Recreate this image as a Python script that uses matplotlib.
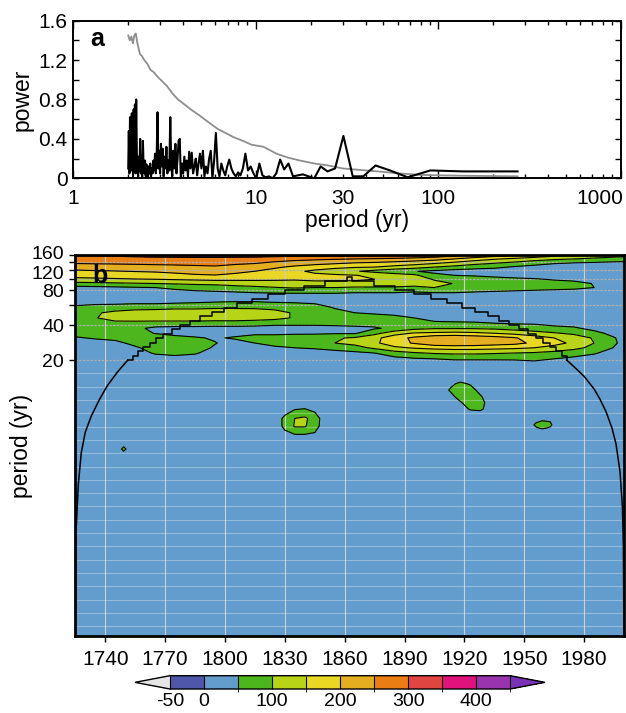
import numpy as np
import matplotlib
matplotlib.use("Agg")
import matplotlib.pyplot as plt
from matplotlib.colors import ListedColormap, BoundaryNorm
from matplotlib.ticker import FixedLocator, FuncFormatter
import matplotlib.transforms as mtransforms

plt.rcParams['font.family'] = ['Liberation Sans', 'DejaVu Sans']
plt.rcParams['axes.unicode_minus'] = False

# ---------------- panel a: global spectrum ----------------
spec_k = np.arange(136, 0, -1)          # Fourier index (record of 272 yr)
spec_periods = 272.0 / spec_k
spec_power = [
    0.10, 0.48, 0.05, 0.62, 0.20, 0.08, 0.66, 0.30, 0.02, 0.70,
    0.15, 0.75, 0.05, 0.80, 0.25, 0.10, 0.02, 0.22, 0.08, 0.40,
    0.05, 0.15, 0.00, 0.38, 0.10, 0.05, 0.18, 0.02, 0.14, 0.08,
    0.00, 0.12, 0.05, 0.15, 0.02, 0.10, 0.05, 0.18, 0.08, 0.25,
    0.05, 0.20, 0.67, 0.10, 0.28, 0.05, 0.35, 0.12, 0.30, 0.02,
    0.22, 0.10, 0.32, 0.05, 0.18, 0.08, 0.62, 0.12, 0.02, 0.28,
    0.10, 0.35, 0.05, 0.20, 0.38, 0.40, 0.00, 0.15, 0.05, 0.22,
    0.08, 0.18, 0.02, 0.27, 0.10, 0.26, 0.05, 0.12, 0.20, 0.03,
    0.15, 0.25, 0.10, 0.28, 0.02, 0.12, 0.05, 0.20, 0.28, 0.00,
    0.18, 0.46, 0.10, 0.02, 0.15, 0.08, 0.03, 0.12, 0.19, 0.10,
    0.05, 0.02, 0.06, 0.03, 0.10, 0.25, 0.08, 0.12, 0.05, 0.00,
    0.15, 0.03, 0.01, 0.02, 0.00, 0.05, 0.19, 0.09, 0.15, 0.02,
    0.03, 0.04, 0.02, 0.00, 0.12, 0.07, 0.10, 0.43, 0.02, 0.02,
    0.13, 0.08, 0.01, 0.08, 0.07, 0.07]

signif_periods = [2.0, 2.04, 2.08, 2.12, 2.16, 2.2, 2.24, 2.28, 2.32, 2.38,
                  2.45, 2.55, 2.65, 2.75, 2.9, 3.05, 3.25, 3.5, 3.75, 4.0,
                  4.4, 4.9, 5.5, 6.2, 7.0, 7.5, 8.5, 9.5, 11, 13,
                  15, 17.5, 21, 25, 30, 40, 50, 60, 80, 100, 150, 272]
signif_power = [1.45, 1.40, 1.44, 1.37, 1.45, 1.47, 1.38, 1.32, 1.26, 1.24,
                1.20, 1.16, 1.10, 1.08, 1.03, 0.99, 0.94, 0.86, 0.80, 0.76,
                0.70, 0.64, 0.57, 0.50, 0.45, 0.42, 0.38, 0.34, 0.32, 0.25,
                0.21, 0.18, 0.15, 0.13, 0.10, 0.08, 0.065, 0.05, 0.035, 0.03,
                0.025, 0.02]

# ---------------- panel b: wavelet power ----------------
grid_years = [1725, 1735, 1745, 1755, 1765, 1775, 1785, 1795, 1805, 1815,
              1825, 1835, 1845, 1855, 1865, 1875, 1885, 1895, 1905, 1915,
              1925, 1935, 1945, 1955, 1965, 1975, 1985, 1995, 2000]
grid_periods = [160, 148, 137, 126, 116, 107, 99, 91, 84, 77, 70, 63, 57,
                51, 46, 41.5, 37.5, 34, 31, 28, 25.5, 23, 20.5, 18]
# one list per year column, values from top (160 yr) to bottom (18 yr)
power_by_year = [
    [305, 275, 255, 225, 190, 165, 140, 85, 35, 20, 20, 25, 60, 85, 90, 85, 75, 65, 45, 25, 22, 22, 22, 22],
    [305, 278, 257, 228, 195, 168, 142, 88, 38, 20, 20, 30, 70, 95, 98, 90, 80, 70, 55, 30, 25, 22, 22, 22],
    [310, 280, 258, 230, 198, 172, 145, 92, 42, 20, 20, 30, 75, 110, 115, 90, 75, 70, 60, 40, 25, 22, 22, 22],
    [315, 283, 260, 232, 202, 176, 148, 96, 46, 20, 20, 35, 80, 120, 125, 85, 60, 68, 70, 60, 45, 30, 22, 22],
    [320, 285, 262, 235, 205, 180, 150, 100, 50, 22, 20, 35, 80, 125, 130, 80, 40, 48, 75, 80, 65, 55, 30, 22],
    [322, 285, 263, 238, 212, 186, 155, 104, 65, 30, 20, 40, 85, 130, 130, 80, 35, 35, 65, 80, 75, 62, 35, 22],
    [325, 285, 264, 242, 220, 194, 160, 108, 75, 40, 20, 45, 85, 130, 130, 80, 35, 30, 55, 70, 68, 55, 30, 22],
    [325, 285, 265, 245, 225, 198, 165, 110, 80, 45, 20, 50, 90, 130, 130, 75, 35, 30, 45, 52, 45, 30, 22, 22],
    [325, 283, 260, 235, 212, 190, 162, 118, 85, 50, 25, 52, 90, 130, 130, 75, 35, 35, 55, 35, 25, 22, 22, 22],
    [325, 280, 255, 225, 200, 180, 160, 125, 90, 55, 25, 52, 90, 125, 125, 70, 35, 40, 70, 50, 25, 22, 22, 22],
    [322, 272, 242, 208, 182, 172, 158, 128, 98, 58, 25, 48, 85, 115, 115, 65, 30, 35, 80, 70, 40, 22, 22, 22],
    [320, 265, 230, 190, 160, 165, 155, 130, 105, 60, 25, 45, 80, 95, 95, 65, 30, 40, 85, 80, 50, 30, 22, 22],
    [320, 260, 220, 175, 140, 160, 160, 135, 100, 60, 25, 40, 70, 85, 85, 65, 30, 40, 90, 90, 55, 30, 22, 22],
    [320, 255, 210, 165, 120, 158, 160, 135, 100, 60, 25, 30, 45, 65, 75, 65, 35, 45, 95, 100, 65, 35, 22, 22],
    [315, 250, 200, 155, 105, 152, 158, 135, 95, 55, 25, 25, 35, 50, 70, 65, 40, 45, 105, 115, 80, 40, 22, 22],
    [315, 245, 195, 150, 85, 140, 150, 130, 95, 55, 25, 25, 30, 45, 65, 65, 45, 85, 135, 140, 110, 50, 28, 22],
    [310, 240, 185, 135, 65, 125, 140, 125, 95, 55, 25, 25, 28, 40, 60, 62, 60, 130, 180, 180, 140, 80, 35, 22],
    [305, 230, 175, 120, 52, 110, 130, 120, 90, 50, 25, 25, 25, 35, 50, 58, 85, 155, 210, 205, 155, 95, 45, 22],
    [290, 220, 160, 100, 40, 60, 95, 115, 100, 55, 25, 25, 25, 30, 40, 55, 95, 160, 235, 235, 165, 105, 50, 22],
    [270, 200, 140, 85, 30, 50, 80, 98, 95, 55, 25, 25, 25, 28, 35, 55, 95, 165, 240, 240, 170, 110, 55, 25],
    [250, 175, 120, 70, 25, 45, 75, 90, 88, 50, 25, 25, 25, 25, 30, 55, 95, 160, 230, 235, 170, 110, 55, 25],
    [230, 155, 105, 60, 25, 35, 70, 85, 85, 45, 25, 25, 25, 25, 30, 50, 90, 150, 220, 225, 165, 105, 55, 25],
    [210, 140, 90, 45, 25, 30, 60, 80, 80, 40, 25, 25, 25, 25, 28, 45, 80, 135, 205, 215, 160, 100, 55, 28],
    [190, 125, 70, 35, 25, 25, 55, 75, 75, 35, 25, 25, 25, 25, 25, 45, 70, 120, 175, 190, 150, 95, 60, 30],
    [170, 110, 55, 30, 25, 25, 45, 70, 70, 30, 25, 25, 25, 25, 25, 38, 60, 105, 150, 165, 135, 85, 50, 25],
    [150, 100, 50, 30, 25, 25, 40, 62, 62, 30, 25, 25, 25, 25, 25, 35, 55, 90, 125, 140, 115, 70, 40, 25],
    [135, 90, 45, 28, 25, 25, 35, 48, 50, 25, 25, 25, 25, 25, 25, 30, 40, 60, 95, 100, 85, 55, 30, 25],
    [125, 80, 40, 25, 25, 25, 30, 35, 35, 25, 25, 25, 25, 25, 25, 25, 30, 40, 52, 55, 48, 30, 25, 25],
    [120, 75, 40, 25, 25, 25, 28, 30, 30, 25, 25, 25, 25, 25, 25, 25, 28, 32, 40, 40, 35, 28, 25, 25],
]

# small isolated patches at short periods
blob1_years = [1825, 1830, 1835, 1840, 1845, 1850]
blob1_periods = [8.5, 7.3, 6.3, 5.4, 4.6, 4.0]
blob1_power = [[25, 25, 25, 25, 25, 25],
               [25, 35, 55, 60, 45, 25],
               [25, 60, 100, 110, 75, 25],
               [25, 60, 105, 105, 70, 25],
               [25, 40, 50, 50, 45, 25],
               [25, 25, 25, 25, 25, 25]]
blob2_years = [1908, 1913, 1918, 1923, 1928, 1933]
blob2_periods = [14, 12.5, 11, 9.7, 8.6, 7.6, 6.7]
blob2_power = [[25, 25, 25, 25, 25, 25],
               [25, 40, 60, 45, 25, 25],
               [25, 55, 80, 70, 35, 25],
               [25, 35, 70, 80, 55, 25],
               [25, 25, 45, 75, 70, 25],
               [25, 25, 30, 55, 60, 25],
               [25, 25, 25, 25, 25, 25]]
blob3_years = [1952, 1956, 1959, 1963, 1966]
blob3_periods = [6.6, 5.9, 5.55, 5.2, 4.8]
blob3_power = [[25, 25, 25, 25, 25],
               [25, 45, 55, 50, 25],
               [25, 60, 75, 60, 25],
               [25, 45, 55, 45, 25],
               [25, 25, 25, 25, 25]]
blob4_years = [1747, 1749.3, 1751.5]
blob4_periods = [3.75, 3.44, 3.15]
blob4_power = [[25, 25, 25],
               [25, 75, 25],
               [25, 25, 25]]

# cone of influence
coi_left_years = [1725.02, 1725.35, 1726.5, 1728, 1730, 1733, 1737, 1741, 1746, 1751.3]
coi_left_periods = [0.085, 0.65, 1.7, 3.2, 4.8, 6.6, 9.1, 12, 15.7, 20]
coi_step_years = [1751.3, 1753.7, 1756.3, 1759.1, 1762.2, 1765.5, 1769.2, 1773.3,
                  1777.6, 1782.4, 1787.6, 1793.3, 1799.5, 1806.2, 1813.6, 1821.6,
                  1830.3, 1839.7, 1850.1, 1861.4, 1863.6, 1874.9, 1885.3, 1894.7,
                  1903.4, 1911.4, 1918.8, 1925.5, 1931.7, 1937.4, 1942.6, 1947.4,
                  1951.7, 1955.8, 1959.5, 1962.8, 1965.9, 1968.7, 1971.3]
coi_step_periods = [20.0, 21.8, 23.8, 25.9, 28.3, 30.8, 33.6, 36.7, 40.0, 43.6,
                    47.6, 51.9, 56.6, 61.7, 67.3, 73.4, 80.0, 87.2, 95.1, 103.7,
                    95.1, 87.2, 80.0, 73.4, 67.3, 61.7, 56.6, 51.9, 47.6, 43.6,
                    40.0, 36.7, 33.6, 30.8, 28.3, 25.9, 23.8, 21.8, 20.0]
coi_right_years = [1971.3, 1975, 1980, 1985, 1988, 1991, 1994, 1996, 1998, 1999.2, 1999.7, 1999.97]
coi_right_periods = [20, 17.5, 14.5, 11.3, 9.2, 7.2, 5.2, 3.8, 2.2, 1.1, 0.5, 0.085]

levels = [-50, 0, 50, 100, 150, 200, 250, 300, 350, 400, 450]
level_colors = ['#4e57a9', '#629dcd', '#4cb71c', '#b8d417', '#e9d823',
                '#e4ae20', '#ea7e15', '#e04542', '#e0127b', '#9934ae']
under_color = '#e6e6e6'
over_color = '#7b30b5'
year_ticks = [1740, 1770, 1800, 1830, 1860, 1890, 1920, 1950, 1980]
period_ticks = [20, 40, 60, 80, 100, 120, 140, 160]
period_labels = ['20', '40', '', '80', '', '120', '', '160']
cbar_ticks = [-50, 0, 100, 200, 300, 400]

# ---------------- figure ----------------
W, H = 626, 713
fig = plt.figure(figsize=(W / 100, H / 100), dpi=100)


def px_axes(left, top, right, bottom):
    return fig.add_axes([left / W, 1 - bottom / H, (right - left) / W, (bottom - top) / H])


def nudge(label, dx_px, dy_px):
    label.set_transform(label.get_transform() +
                        mtransforms.ScaledTranslation(dx_px / 100, dy_px / 100, fig.dpi_scale_trans))


FS = 15
LFS = 16.5

# panel a
ax1 = px_axes(73.3, 20.7, 620.7, 178.3)
ax1.plot(signif_periods, signif_power, color='#8e8e8e', lw=1.3, zorder=2)
ax1.plot(spec_periods, spec_power, color='black', lw=1.5, zorder=3)
ax1.set_xscale('log')
ax1.set_xlim(1, 1000)
ax1.set_ylim(0, 1.6)
ax1.xaxis.set_major_locator(FixedLocator([1, 10, 100, 1000]))
minor_x = [m * d for d in (1, 10, 100) for m in range(2, 10)]
ax1.xaxis.set_minor_locator(FixedLocator(minor_x))
ax1.xaxis.set_major_formatter(FuncFormatter(lambda v, p: '%d' % round(v)))
ax1.xaxis.set_minor_formatter(FuncFormatter(lambda v, p: '30' if abs(v - 30) < 1e-6 else ''))
ax1.yaxis.set_major_locator(FixedLocator([0, 0.4, 0.8, 1.2, 1.6]))
ax1.yaxis.set_minor_locator(FixedLocator([0.2, 0.6, 1.0, 1.4]))
ax1.set_yticklabels(['0', '0.4', '0.8', '1.2', '1.6'])
ax1.tick_params(which='both', direction='in', top=True, right=True, labelsize=FS, width=1.0)
ax1.tick_params(axis='x', which='major', length=6, pad=8)
ax1.tick_params(axis='x', which='minor', length=3.2, pad=8)
ax1.tick_params(axis='y', which='both', length=4, pad=4)
for s in ax1.spines.values():
    s.set_linewidth(1.4)
fig.text(21.7 / W, 1 - 99.5 / H, 'power', rotation=90, ha='center', va='center', fontsize=LFS)
fig.text(357 / W, 1 - 221 / H, 'period (yr)', ha='center', va='center', fontsize=LFS)
fig.text(90 / W, 1 - 38.5 / H, 'a', ha='left', va='center', fontsize=18, fontweight='bold')

# panel b
ax2 = px_axes(75.3, 255, 624, 636)
ax2.set_facecolor(level_colors[1])
cmap = ListedColormap(level_colors)
cmap.set_under(under_color)
cmap.set_over(over_color)
norm = BoundaryNorm(levels, cmap.N)

Z = np.array(power_by_year, dtype=float).T
grids = [(grid_years, grid_periods, Z),
         (blob1_years, blob1_periods, np.array(blob1_power, float)),
         (blob2_years, blob2_periods, np.array(blob2_power, float)),
         (blob3_years, blob3_periods, np.array(blob3_power, float)),
         (blob4_years, blob4_periods, np.array(blob4_power, float))]
for gx, gy, gz in grids:
    ax2.contourf(gx, gy, gz, levels=levels, cmap=cmap, norm=norm, extend='both', zorder=1)
    ax2.contour(gx, gy, gz, levels=levels, colors='black', linewidths=0.8, zorder=4)

ax2.set_yscale('log')
ax2.set_xlim(1725, 2000)
ax2.set_ylim(0.085, 160)

# grid lines
for yr in year_ticks:
    ax2.axvline(yr, color='#cfcfcf', lw=0.8, zorder=3)
for p in period_ticks:
    ax2.axhline(p, color='#b0b0b0', lw=0.9, ls=(0, (2, 1)), zorder=3)
for k in range(1, 21):
    ax2.axhline(20 * np.exp(-k * 13.3 / 50.5), color='white', alpha=0.3, lw=0.8, zorder=3)

ax2.plot(coi_left_years, coi_left_periods, color='black', lw=1.1, zorder=5)
ax2.plot(coi_step_years, coi_step_periods, color='black', lw=1.1, drawstyle='steps-post', zorder=5)
ax2.plot(coi_right_years, coi_right_periods, color='black', lw=1.1, zorder=5)

ax2.yaxis.set_major_locator(FixedLocator(period_ticks))
ax2.yaxis.set_minor_locator(FixedLocator([]))
ax2.set_yticklabels(period_labels)
ax2.xaxis.set_major_locator(FixedLocator(year_ticks))
ax2.set_xticklabels([str(y) for y in year_ticks])
ax2.tick_params(which='both', direction='out', length=4, width=1.0, labelsize=FS)
ax2.tick_params(axis='y', labelsize=14)
ax2.tick_params(axis='x', pad=6)
ax2.tick_params(axis='y', pad=4)
for s in ax2.spines.values():
    s.set_linewidth(2.0)
    s.set_zorder(6)
fig.text(21.7 / W, 1 - 445.5 / H, 'period (yr)', rotation=90, ha='center', va='center', fontsize=LFS)
fig.text(92 / W, 1 - 276 / H, 'b', ha='left', va='center', fontsize=18, fontweight='bold', zorder=7)

# colour bar
cax = px_axes(135, 675.7, 545, 689)
sm = matplotlib.cm.ScalarMappable(cmap=cmap, norm=norm)
cb = fig.colorbar(sm, cax=cax, orientation='horizontal', extend='both',
                  extendfrac=0.1025, drawedges=True, ticks=cbar_ticks)
cb.outline.set_linewidth(1.0)
cb.dividers.set_linewidth(0.8)
cb.ax.tick_params(length=0, labelsize=14, pad=3)
cb.ax.set_xticklabels([str(t) for t in cbar_ticks])

# fine placement of a few tick labels
fig.canvas.draw()
lab1000 = ax1.get_xticklabels()[-1]
lab1000.set_horizontalalignment('right')
nudge(lab1000, 3, 0)
ylabs = ax2.get_yticklabels()
nudge(ylabs[7], 0, 2.5)    # 160
nudge(ylabs[5], 0, -2.5)   # 120

fig.savefig('out.png', dpi=100)
